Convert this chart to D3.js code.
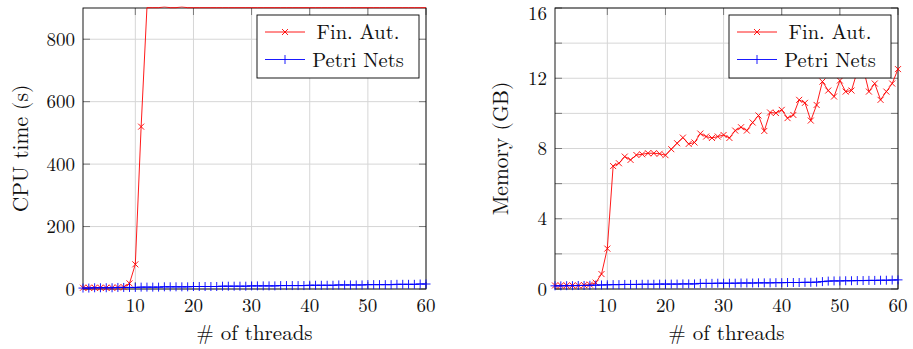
<!DOCTYPE html>
<html>
<head>
<meta charset="utf-8">
<script src="https://cdn.jsdelivr.net/npm/d3@7"></script>
<style>
  body { margin: 0; background: #fff; }
  svg { display: block; font-family: "Latin Modern Roman", "Liberation Serif", serif; }
</style>
</head>
<body>
<div id="chart"></div>
<script>
// threads 1..60
const threads = d3.range(1, 61);

// CPU time (s), Fin. Aut. -- timeout sits on the top edge (ymax = 900)
const cpuFinAut = [4, 4, 4, 4, 4, 4, 5, 6, 18, 79,
  520, 901, 901, 901, 904, 901, 901, 904, 901, 901,
  901, 901, 901, 901, 901, 901, 901, 901, 901, 901,
  901, 901, 901, 901, 901, 901, 901, 901, 901, 901,
  901, 901, 901, 901, 901, 901, 901, 901, 901, 901,
  901, 901, 901, 901, 901, 901, 901, 901, 901, 901];
const cpuPetri = [3, 3, 4, 4, 4, 4, 5, 5, 5, 5,
  6, 6, 6, 6, 7, 7, 7, 7, 7, 8,
  8, 8, 8, 8, 9, 9, 9, 9, 9, 10,
  10, 10, 10, 10, 11, 11, 11, 11, 11, 12,
  12, 12, 12, 12, 13, 13, 13, 13, 13, 14,
  14, 14, 14, 14, 15, 15, 15, 15, 16, 16];

// Memory (GB)
const memFinAut = [0.2, 0.2, 0.2, 0.2, 0.2, 0.22, 0.25, 0.36, 0.85, 2.3,
  7.0, 7.16, 7.54, 7.35, 7.63, 7.67, 7.73, 7.73, 7.7, 7.62,
  7.96, 8.3, 8.62, 8.26, 8.34, 8.85, 8.68, 8.6, 8.68, 8.77,
  8.6, 9.02, 9.21, 9.02, 9.48, 9.88, 9.0, 10.05, 10.02, 10.2,
  9.73, 9.91, 10.77, 10.6, 9.59, 10.48, 11.81, 11.3, 10.96, 11.87,
  11.24, 11.3, 12.4, 12.6, 11.24, 11.7, 10.77, 11.24, 11.7, 12.52];
const memPetri = [0.18, 0.18, 0.19, 0.19, 0.2, 0.2, 0.21, 0.22, 0.23, 0.24,
  0.25, 0.25, 0.26, 0.26, 0.26, 0.27, 0.27, 0.27, 0.28, 0.28,
  0.28, 0.28, 0.29, 0.29, 0.29, 0.32, 0.32, 0.32, 0.33, 0.33,
  0.33, 0.33, 0.34, 0.34, 0.34, 0.35, 0.35, 0.35, 0.36, 0.36,
  0.37, 0.37, 0.37, 0.38, 0.38, 0.39, 0.42, 0.45, 0.46, 0.46,
  0.47, 0.47, 0.48, 0.48, 0.49, 0.49, 0.5, 0.5, 0.51, 0.52];

const xTicks = [10, 20, 30, 40, 50, 60];
const cpuTicks = [0, 200, 400, 600, 800];
const memTicks = [0, 2, 4, 6, 8, 10, 12, 14, 16];
const memLabels = [0, 4, 8, 12, 16];
const seriesNames = ["Fin. Aut.", "Petri Nets"];

const svg = d3.select("#chart").append("svg").attr("width", 913).attr("height", 349);

function panel(o) {
    const g = svg.append("g");
    const x = d3.scaleLinear().domain([1, 60]).range([o.left, o.right]);
    const y = d3.scaleLinear().domain([0, o.ymax]).range([289, 8]);
    const top = 8, bottom = 289;

    // grid
    g.selectAll(".gx").data(xTicks).join("line")
        .attr("x1", d => x(d)).attr("x2", d => x(d)).attr("y1", top).attr("y2", bottom)
        .attr("stroke", "#d6d6d6").attr("stroke-width", 1);
    g.selectAll(".gy").data(o.ticks).join("line")
        .attr("x1", o.left).attr("x2", o.right).attr("y1", d => y(d)).attr("y2", d => y(d))
        .attr("stroke", "#d6d6d6").attr("stroke-width", 1);

    // inward ticks, all four sides
    const tl = 7;
    xTicks.forEach(t => {
        g.append("line").attr("x1", x(t)).attr("x2", x(t)).attr("y1", bottom).attr("y2", bottom - tl)
            .attr("stroke", "#7a7a7a");
        g.append("line").attr("x1", x(t)).attr("x2", x(t)).attr("y1", top).attr("y2", top + tl)
            .attr("stroke", "#7a7a7a");
    });
    o.ticks.forEach(t => {
        g.append("line").attr("x1", o.left).attr("x2", o.left + tl).attr("y1", y(t)).attr("y2", y(t))
            .attr("stroke", "#7a7a7a");
        g.append("line").attr("x1", o.right).attr("x2", o.right - tl).attr("y1", y(t)).attr("y2", y(t))
            .attr("stroke", "#7a7a7a");
    });

    // frame
    g.append("rect").attr("x", o.left).attr("y", top)
        .attr("width", o.right - o.left).attr("height", bottom - top)
        .attr("fill", "none").attr("stroke", "#000").attr("stroke-width", 0.9);

    // tick labels
    g.selectAll(".xl").data(xTicks).join("text")
        .attr("x", d => x(d)).attr("y", 305).attr("dy", "0.35em")
        .attr("text-anchor", "middle").attr("font-size", 19).attr("fill", "#111")
        .text(d => d);
    g.selectAll(".yl").data(o.labels).join("text")
        .attr("x", o.left - 8).attr("y", d => Math.max(y(d), 13)).attr("dy", "0.35em")
        .attr("text-anchor", "end").attr("font-size", 19).attr("fill", "#111")
        .text(d => d);

    // axis titles
    g.append("text").attr("x", (o.left + o.right) / 2).attr("y", 333).attr("dy", "0.35em")
        .attr("text-anchor", "middle").attr("font-size", 21).attr("fill", "#111")
        .text("# of threads");
    g.append("text").attr("transform", `translate(${o.ylabX},148.5) rotate(-90)`)
        .attr("dy", "0.35em").attr("text-anchor", "middle").attr("font-size", 21.5).attr("fill", "#111")
        .text(o.ylabel);

    // data
    const clipId = "clip" + o.id;
    svg.append("clipPath").attr("id", clipId).append("rect")
        .attr("x", o.left - 6).attr("y", top - 1.5)
        .attr("width", o.right - o.left + 12).attr("height", bottom - top + 8);
    const dg = g.append("g").attr("clip-path", `url(#${clipId})`);
    const line = d3.line().x((d, i) => x(threads[i])).y(d => y(d));
    const colors = ["#ff0000", "#0000ff"];
    [o.a, o.b].forEach((vals, k) => {
        dg.append("path").datum(vals).attr("d", line)
            .attr("fill", "none").attr("stroke", colors[k]).attr("stroke-width", 0.9);
        const pts = vals.map((v, i) => [x(threads[i]), y(v), v]).filter(p => p[2] <= o.ymax);
        pts.forEach(p => {
            const s = k === 0 ? 3 : 4.5;
            const d = k === 0
                ? `M${p[0] - s},${p[1] - s}L${p[0] + s},${p[1] + s}M${p[0] - s},${p[1] + s}L${p[0] + s},${p[1] - s}`
                : `M${p[0] - s},${p[1]}L${p[0] + s},${p[1]}M${p[0]},${p[1] - s}L${p[0]},${p[1] + s}`;
            dg.append("path").attr("d", d).attr("stroke", colors[k]).attr("stroke-width", 0.9).attr("fill", "none");
        });
    });

    // legend
    const lx = o.right - 169, ly = 15;
    const lg = g.append("g");
    lg.append("rect").attr("x", lx).attr("y", ly).attr("width", 162).attr("height", 63)
        .attr("fill", "#fff").attr("stroke", "#000").attr("stroke-width", 0.9);
    seriesNames.forEach((name, k) => {
        const ry = ly + 17 + k * 27.5;
        lg.append("line").attr("x1", lx + 8).attr("x2", lx + 48).attr("y1", ry).attr("y2", ry)
            .attr("stroke", colors[k]).attr("stroke-width", 0.9);
        const cx = lx + 28, s = k === 0 ? 3 : 4.5;
        const d = k === 0
            ? `M${cx - s},${ry - s}L${cx + s},${ry + s}M${cx - s},${ry + s}L${cx + s},${ry - s}`
            : `M${cx},${ry - s}L${cx},${ry + s}`;
        lg.append("path").attr("d", d).attr("stroke", colors[k]).attr("stroke-width", 0.9);
        lg.append("text").attr("x", lx + 101).attr("y", ry).attr("dy", "0.35em")
            .attr("text-anchor", "middle").attr("font-size", 20.5).attr("fill", "#111")
            .text(name);
    });
}

panel({ id: "cpu", left: 83, right: 426, ymax: 900, ticks: cpuTicks, labels: cpuTicks,
    ylabel: "CPU time (s)", ylabX: 20, a: cpuFinAut, b: cpuPetri });
panel({ id: "mem", left: 555, right: 898, ymax: 16, ticks: memTicks, labels: memLabels,
    ylabel: "Memory (GB)", ylabX: 500, a: memFinAut, b: memPetri });
</script>
</body>
</html>
